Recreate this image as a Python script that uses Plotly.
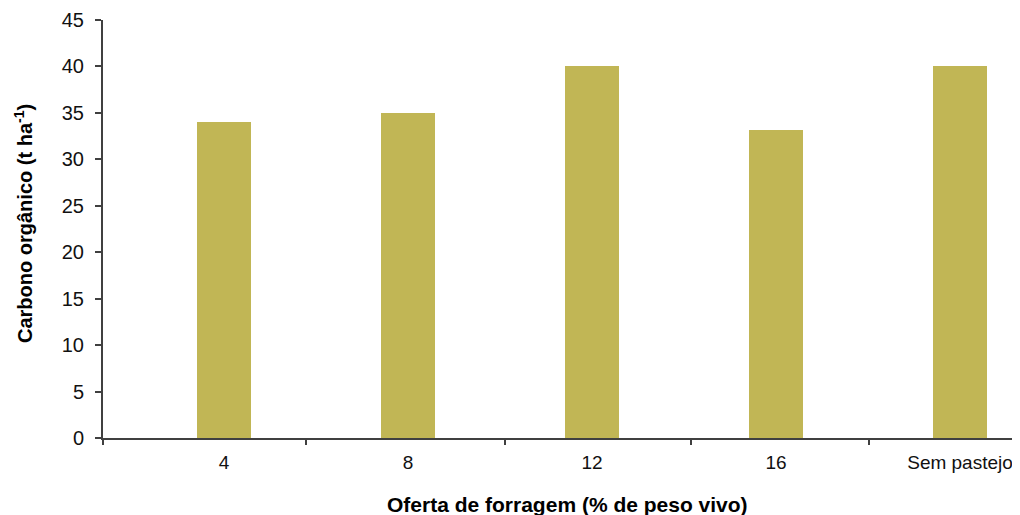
import plotly.graph_objects as go

categories = ["4", "8", "12", "16", "Sem pastejo"]
carbono = [34.0, 35.0, 40.1, 33.2, 40.1]
y_ticks = [0, 5, 10, 15, 20, 25, 30, 35, 40, 45]
# category separator tick positions on the x axis (in category units)
x_sep_ticks = [-0.658, 0.444, 1.526, 2.538, 3.507]

bar_color = "#C1B655"
axis_color = "#404040"
font_family = "Liberation Sans, Arial, sans-serif"
x_range = [-0.658, 4.326]

fig = go.Figure()
fig.add_trace(go.Bar(
    x=list(range(len(categories))),
    y=carbono,
    width=0.293,
    marker=dict(color=bar_color, line=dict(width=0)),
    showlegend=False,
))
# invisible trace on overlay axis to carry separator ticks
fig.add_trace(go.Scatter(x=x_sep_ticks, y=[0]*len(x_sep_ticks), xaxis="x2",
                         mode="markers", marker=dict(opacity=0), showlegend=False,
                         hoverinfo="skip"))

fig.update_layout(
    width=1012, height=507,
    margin=dict(l=95, r=0, t=12, b=77, autoexpand=False),
    paper_bgcolor="white", plot_bgcolor="white",
    font=dict(family=font_family, size=20, color="#111111"),
    xaxis=dict(
        range=x_range,
        tickmode="array",
        tickvals=list(range(len(categories))),
        ticktext=categories,
        ticks="",
        showline=True, linecolor=axis_color, linewidth=2,
        showgrid=False, zeroline=False,
        tickfont=dict(size=19, family=font_family, color="#111111"),
        ticklabelstandoff=6,
        automargin=False,
    ),
    xaxis2=dict(
        range=x_range,
        overlaying="x",
        side="bottom",
        tickmode="array",
        tickvals=x_sep_ticks,
        showticklabels=False,
        ticks="outside", ticklen=6, tickwidth=2, tickcolor=axis_color,
        showline=False, showgrid=False, zeroline=False,
        automargin=False,
    ),
    yaxis=dict(
        range=[0, 45],
        tickmode="array",
        tickvals=y_ticks,
        ticks="outside", ticklen=6, tickwidth=2, tickcolor=axis_color,
        showline=True, linecolor=axis_color, linewidth=2,
        showgrid=False, zeroline=False,
        tickfont=dict(size=20, family=font_family, color="#111111"),
        ticklabelstandoff=7,
        automargin=False,
    ),
    bargap=0,
    annotations=[
        dict(text="<b>Oferta de forragem (% de peso vivo)</b>",
             xref="paper", yref="paper", x=0.507, y=0,
             xanchor="center", yanchor="middle", yshift=-66,
             showarrow=False,
             font=dict(size=21, family=font_family, color="#000000")),
        dict(text="<b>Carbono orgânico (t ha<sup>-1</sup>)</b>",
             xref="paper", yref="paper", x=0, y=0.5,
             xanchor="center", yanchor="middle", xshift=-80, yshift=5,
             textangle=-90, showarrow=False,
             font=dict(size=20, family=font_family, color="#000000")),
    ],
)

fig.write_html("out.html")
